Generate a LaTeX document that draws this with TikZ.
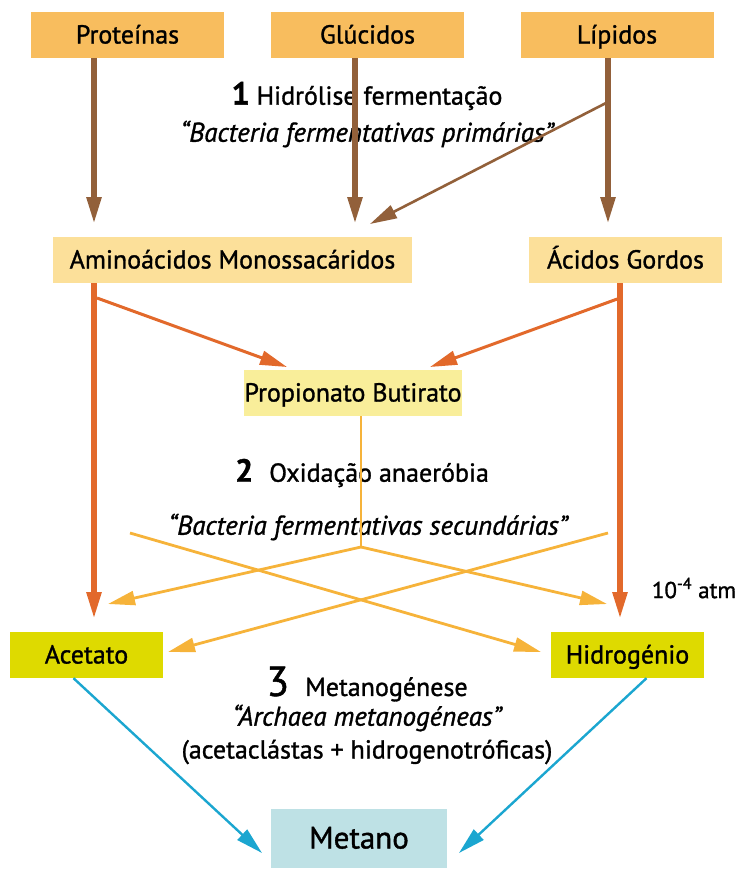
\documentclass[tikz,border=0pt]{standalone}
\usepackage{fontspec}
\setmainfont{PT Sans}[FakeBold=1.2]
\usetikzlibrary{arrows.meta,calc}
\definecolor{srcfill}{HTML}{F8BD5E}
\definecolor{midfill}{HTML}{FCE09A}
\definecolor{propfill}{HTML}{F9EE9A}
\definecolor{endfill}{HTML}{DEDA00}
\definecolor{metfill}{HTML}{BEE1E5}
\definecolor{brownline}{HTML}{92603A}
\definecolor{orangeline}{HTML}{E2692B}
\definecolor{yellowline}{HTML}{F6B33A}
\definecolor{blueline}{HTML}{1BA6D0}
\tikzset{
  box/.style={inner sep=0pt, font=\fontsize{26}{30}\selectfont, text height=21pt, text depth=4pt},
  srcbox/.style={box, fill=srcfill, minimum width=193pt, minimum height=46pt},
  midbox/.style={box, fill=midfill, minimum height=46pt},
  propbox/.style={box, fill=propfill, minimum width=218pt, minimum height=46pt},
  endbox/.style={box, fill=endfill, minimum width=153pt, minimum height=46pt},
  metbox/.style={box, fill=metfill, minimum width=176pt, minimum height=59pt, font=\fontsize{31}{34}\selectfont, text height=25pt, text depth=5pt},
  tip/.style={-{Triangle[length=27pt,width=14pt]}},
  brownthick/.style={tip, draw=brownline, line width=5.5pt},
  brownthin/.style={tip, draw=brownline, line width=2.6pt},
  orangethick/.style={tip, draw=orangeline, line width=5.5pt},
  orangethin/.style={tip, draw=orangeline, line width=3pt},
  yellowarr/.style={tip, draw=yellowline, line width=2.8pt},
  yellowplain/.style={draw=yellowline, line width=2.8pt},
  bluearr/.style={tip, draw=blueline, line width=2.4pt},
  label/.style={inner sep=0pt, font=\fontsize{26}{30}\selectfont},
  itlabel/.style={inner sep=0pt, font=\fontsize{27}{30}\selectfont\itshape},
}
\begin{document}
\begin{tikzpicture}[x=1pt,y=-1pt]
\useasboundingbox (0,0) rectangle (736,870);

% source substrates
\node[srcbox] (prot) at (127.5,35) {Proteínas};
\node[srcbox] (gluc) at (367.5,35) {Glúcidos};
\node[srcbox] (lip)  at (617,35) {Lípidos};

% hydrolysis products
\node[midbox, minimum width=359pt] (amino) at (232.5,260) {Aminoácidos Monossacáridos};
\node[midbox, minimum width=193pt] (acid)  at (625.5,260) {Ácidos Gordos};

% intermediates
\node[propbox] (prop) at (353,393) {Propionato Butirato};

% final substrates
\node[endbox] (acet) at (86.5,655) {Acetato};
\node[endbox] (hidr) at (627.5,655) {Hidrogénio};
\node[metbox] (met) at (359,838.5) {Metano};

% stage captions
\node[label] (st1) at (367,96) {\textbf{\fontsize{32}{32}\selectfont 1} Hidrólise fermentação};
\node[itlabel] (st1b) at (367,134) {“Bacteria fermentativas primárias”};
\node[label] (st2) at (362,473) {\textbf{\fontsize{32}{32}\selectfont 2}\hspace{16pt}Oxidação anaeróbia};
\node[itlabel] (st2b) at (368,527) {“Bacteria fermentativas secundárias”};
\node[label] (st3) at (367,684) {{\fontsize{42}{42}\selectfont 3}\hspace{16pt}Metanogénese};
\node[itlabel] (st3b) at (367,718) {“Archaea metanogéneas”};
\node[label] (st3c) at (367,752) {(acetaclástas + hidrogenotróficas)};
\node[label, font=\fontsize{23}{26}\selectfont] (atm) at (694,588) {10\textsuperscript{-4} atm};

% hydrolysis arrows
\coordinate (pe) at (94,224);
\coordinate (ge) at (355,224);
\coordinate (le) at (608,224);
\coordinate (lb) at (608,102);
\coordinate (lge) at (370,224);
\draw[brownthick] (prot.south -| pe) -- (pe);
\draw[brownthick] (gluc.south -| ge) -- (ge);
\draw[brownthick] (lip.south -| le) -- (le);
\draw[brownthin] (lb) -- (lge);

% acidogenesis arrows
\coordinate (al) at (94,619);
\coordinate (ar) at (620,619);
\coordinate (as) at (97,298);
\coordinate (ap) at (287,367);
\coordinate (rs) at (620,298);
\coordinate (rp) at (430,367);
\draw[orangethick] (amino.south -| al) -- (al);
\draw[orangethick] (acid.south -| ar) -- (ar);
\draw[orangethin] (as) -- (ap);
\draw[orangethin] (rs) -- (rp);

% anaerobic oxidation
\coordinate (pj) at (361,547);
\coordinate (pa) at (108,604);
\coordinate (ph) at (607,604);
\coordinate (xl) at (130,533);
\coordinate (xh) at (541,652);
\coordinate (xr) at (608,533);
\coordinate (xa) at (168,652);
\draw[yellowplain] (prop.south -| pj) -- (pj);
\draw[yellowarr] (pj) -- (pa);
\draw[yellowarr] (pj) -- (ph);
\draw[yellowarr] (xl) -- (xh);
\draw[yellowarr] (xr) -- (xa);

% methanogenesis
\coordinate (ma) at (262,853);
\coordinate (mh) at (459,853);
\draw[bluearr] ($(acet.south)+(-13,0)$) -- (ma);
\draw[bluearr] ($(hidr.south)+(19,0)$) -- (mh);
\end{tikzpicture}
\end{document}
